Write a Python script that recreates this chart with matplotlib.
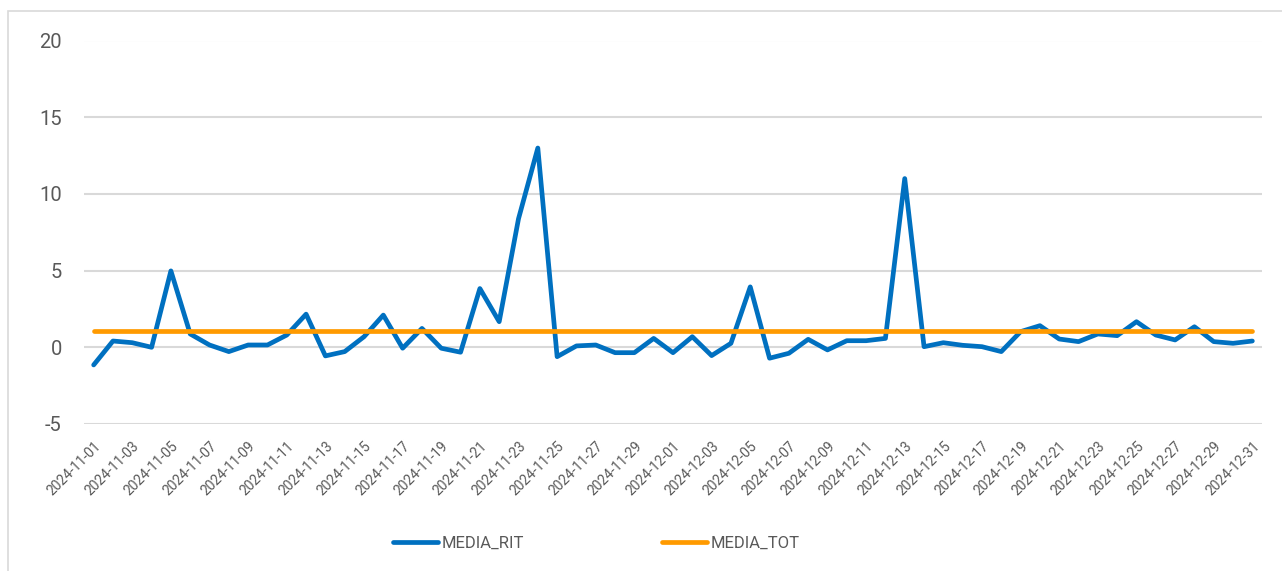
import numpy as np
import pandas as pd
import matplotlib
matplotlib.use("Agg")
import matplotlib.pyplot as plt
from matplotlib.patches import Rectangle

plt.rcParams["font.family"] = ["Roboto", "DejaVu Sans"]

# daily values
dates = pd.date_range("2024-11-01", "2024-12-31", freq="D").strftime("%Y-%m-%d").tolist()
media_rit = [
    -1.15, 0.41, 0.30, 0.00, 4.98, 0.87, 0.15, -0.28, 0.15, 0.15,
    0.80, 2.16, -0.56, -0.28, 0.69, 2.10, -0.06, 1.23, -0.06, -0.32,
    3.83, 1.67, 8.38, 12.99, -0.61, 0.09, 0.15, -0.35, -0.35, 0.58,
    -0.35, 0.69, -0.54, 0.26, 3.94, -0.71, -0.39, 0.52, -0.17, 0.43,
    0.43, 0.58, 11.00, 0.04, 0.30, 0.13, 0.04, -0.28, 1.02, 1.41,
    0.54, 0.37, 0.87, 0.76, 1.67, 0.80, 0.48, 1.34, 0.37, 0.26,
    0.41,
]
media_tot = [1.04] * len(dates)
y_ticks = [-5, 0, 5, 10, 15, 20]

W, H = 1282, 571
fig = plt.figure(figsize=(W / 100, H / 100), dpi=100)
fig.patch.set_facecolor("white")

# chart frame, cut off at right/bottom like the screenshot
fig.patches.append(Rectangle((8 / W, -0.1), 1.2, 1 - 11 / H + 0.1,
                             transform=fig.transFigure, fill=False,
                             edgecolor="#D9D9D9", lw=1.2))

ax = fig.add_axes([84 / W, 1 - 424 / H, (1262 - 84) / W, (424 - 40.5) / H])
x = np.arange(len(dates))
ax.plot(x, media_rit, color="#0070C0", lw=3.4, solid_joinstyle="round",
        solid_capstyle="round", label="MEDIA_RIT", zorder=3)
ax.plot(x, media_tot, color="#FF9A00", lw=3.4, solid_capstyle="round",
        label="MEDIA_TOT", zorder=3)

ax.set_xlim(-0.5, len(dates) - 0.5)
ax.set_ylim(-5, 20)
ax.set_yticks(y_ticks)
ax.set_yticklabels([str(v) for v in y_ticks], fontsize=14.5, color="#595959")
ax.yaxis.grid(True, color="#D9D9D9", lw=1.5)
ax.set_axisbelow(True)
ax.set_xticks(x[::2])
ax.set_xticklabels(dates[::2], rotation=45, ha="right", rotation_mode="anchor",
                   fontsize=10, color="#595959")
ax.tick_params(axis="both", length=0)
ax.tick_params(axis="y", pad=16)
ax.tick_params(axis="x", pad=11)
for s in ax.spines.values():
    s.set_visible(False)

leg = fig.legend(loc="center", bbox_to_anchor=(596 / W, 1 - 543 / H), ncol=2,
                 frameon=False, fontsize=12, handlelength=2.7,
                 handletextpad=0.2, columnspacing=8.3)
for t in leg.get_texts():
    t.set_color("#595959")

fig.savefig("out.png", dpi=100)
